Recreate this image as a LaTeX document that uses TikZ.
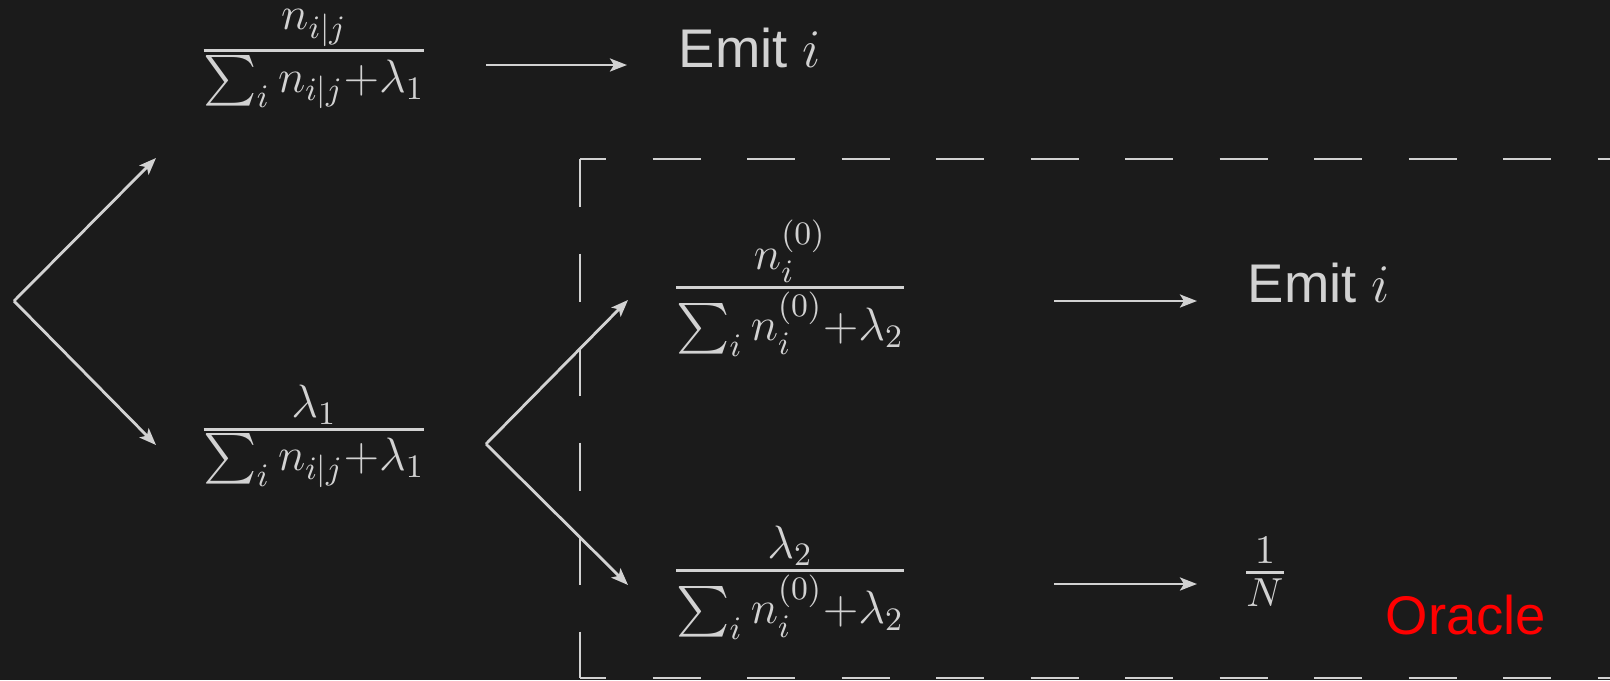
\documentclass[tikz,border=0pt]{standalone}
\usepackage{fix-cm}
\usepackage{amsmath}
\usepackage{fontspec}
\setsansfont{Liberation Sans}
\usetikzlibrary{arrows.meta}

\definecolor{bg}{RGB}{27,27,27}
\definecolor{fg}{RGB}{210,210,210}
\definecolor{oraclered}{RGB}{255,0,0}

% compact fraction with a thicker bar
\newcommand{\branchfrac}[2]{\genfrac{}{}{0.85pt}{1}{\textstyle #1}{\textstyle #2}}

\tikzset{
  frac/.style={inner sep=0pt, anchor=base, text=fg, font=\fontsize{13.3}{16}\selectfont},
  emit/.style={inner sep=0pt, anchor=base west, text=fg, font=\sffamily\fontsize{15.5}{19}\selectfont},
  branch/.style={draw=fg, line width=0.8pt, -{Stealth[length=1.7mm,width=1.3mm,inset=0.4mm]}},
  oraclebox/.style={draw=fg, line width=0.8pt, dash pattern=on 0.48cm off 0.465cm},
}

\begin{document}
\begin{tikzpicture}
   \fill[bg] (0,0) rectangle (16.10,6.80);
   \useasboundingbox (0,0) rectangle (16.10,6.80);

   % First split
   \coordinate (root) at (0.14,3.79);
   \coordinate (rootUp) at (1.56,5.22);
   \coordinate (rootDown) at (1.56,2.35);
   \draw[branch] (root) -- (rootUp);
   \draw[branch] (root) -- (rootDown);

   \node[frac] (seen) at (3.14,6.175) {$\branchfrac{n_{i|j}}{\sum_i n_{i|j}{+}\lambda_1}$};
   \node[frac] (unseen) at (3.14,2.39) {$\branchfrac{\lambda_1}{\sum_i n_{i|j}{+}\lambda_1}$};

   \coordinate (seenOut) at (4.86,6.15);
   \coordinate (seenIn) at (6.27,6.15);
   \draw[branch] (seenOut) -- (seenIn);
   \node[emit] (emitA) at (6.78,6.13) {Emit $i$};

   % Oracle box
   \draw[oraclebox] (5.80,5.21) -- (5.80,0.02);
   \draw[oraclebox, dash phase=0.22cm] (5.80,5.21) -- (16.10,5.21);
   \draw[oraclebox, dash phase=0.22cm] (5.80,0.02) -- (16.10,0.02);

   % Second split
   \coordinate (split) at (4.86,2.36);
   \coordinate (splitUp) at (6.28,3.80);
   \coordinate (splitDown) at (6.28,0.95);
   \draw[branch] (split) -- (splitUp);
   \draw[branch] (split) -- (splitDown);

   \node[frac] (prior) at (7.90,3.81) {$\branchfrac{n_i^{(0)}}{\sum_i n_i^{(0)}{+}\lambda_2}$};
   \node[frac] (backoff) at (7.90,0.98) {$\branchfrac{\lambda_2}{\sum_i n_i^{(0)}{+}\lambda_2}$};

   \coordinate (priorOut) at (10.54,3.79);
   \coordinate (priorIn) at (11.97,3.79);
   \draw[branch] (priorOut) -- (priorIn);
   \node[emit] (emitB) at (12.47,3.78) {Emit $i$};

   \coordinate (backoffOut) at (10.54,0.96);
   \coordinate (backoffIn) at (11.97,0.96);
   \draw[branch] (backoffOut) -- (backoffIn);
   \node[frac, font=\fontsize{16.5}{19}\selectfont] (uniform) at (12.65,0.935) {$\genfrac{}{}{0.85pt}{1}{1}{N}$};

   \node[emit, text=oraclered] (oracle) at (13.85,0.46) {Oracle};
\end{tikzpicture}
\end{document}
